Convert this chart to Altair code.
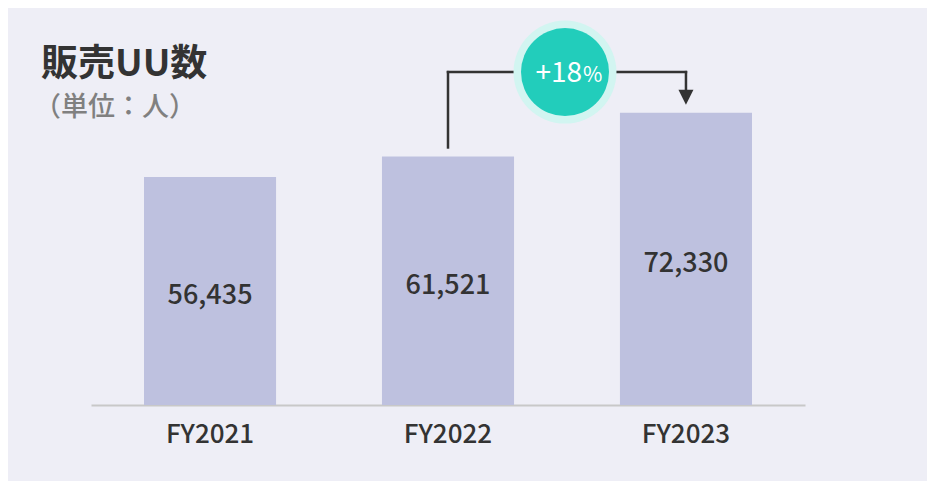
import altair as alt
import pandas as pd

# ---- data ----
years = ["FY2021", "FY2022", "FY2023"]
values = [56435, 61521, 72330]
title_text = "販売UU数"
subtitle_text = "（単位：人）"
growth_text = "+18"
growth_unit = "%"
bracket_level = 82400  # height of the growth bracket, in data units

# ---- style ----
FONT = "Noto Sans CJK JP"
BG = "#eeeef6"
BAR = "#bec1df"
TEXT = "#333333"
TEAL = "#22cdbb"
TEAL_LIGHT = "#d2f5f1"
YMAX = 95300

df = pd.DataFrame({"year": years, "value": values})

x_scale = alt.Scale(domain=years, paddingInner=0.445, paddingOuter=0.2227)
y_scale = alt.Scale(domain=[0, YMAX], nice=False, zero=True)

x_enc = alt.X(
    "year:N",
    scale=x_scale,
    sort=years,
    axis=alt.Axis(
        title=None,
        labelAngle=0,
        ticks=False,
        domainColor="#c8c8c8",
        domainWidth=2,
        labelFont=FONT,
        labelFontSize=26,
        labelFontWeight=500,
        labelColor=TEXT,
        labelPadding=16,
        grid=False,
    ),
)
y_enc = alt.Y("value:Q", scale=y_scale, axis=None)

bars = alt.Chart(df).mark_bar(color=BAR).encode(x=x_enc, y=y_enc)

labels = (
    alt.Chart(df)
    .transform_calculate(half="datum.value / 2")
    .mark_text(font=FONT, fontSize=27, fontWeight=500, color=TEXT, baseline="middle", dy=5)
    .encode(
        x=alt.X("year:N", scale=x_scale, sort=years),
        y=alt.Y("half:Q", scale=y_scale),
        text=alt.Text("value:Q", format=","),
    )
)

# ---- growth bracket ----
first = pd.DataFrame({"year": [years[1]], "value": [values[1]], "level": [bracket_level]})
last = pd.DataFrame({"year": [years[2]], "value": [values[2]], "level": [bracket_level]})
span = pd.DataFrame({"year": [years[1]], "year2": [years[2]], "level": [bracket_level]})

rule_style = dict(color=TEXT, strokeWidth=2.5, strokeCap="square")

left_leg = alt.Chart(first).mark_rule(yOffset=-9, **rule_style).encode(
    x=alt.X("year:N", scale=x_scale, sort=years),
    y=alt.Y("value:Q", scale=y_scale),
    y2="level:Q",
)
top_bar = alt.Chart(span).mark_rule(**rule_style).encode(
    x=alt.X("year:N", scale=x_scale, sort=years),
    x2="year2:N",
    y=alt.Y("level:Q", scale=y_scale),
)
right_leg = alt.Chart(last).mark_rule(yOffset=-23, **rule_style).encode(
    x=alt.X("year:N", scale=x_scale, sort=years),
    y=alt.Y("value:Q", scale=y_scale),
    y2="level:Q",
)
arrow = alt.Chart(last).mark_point(
    shape="M-1,-1L1,-1L0,1Z", size=225, filled=True, color=TEXT, opacity=1, yOffset=-15.5
).encode(
    x=alt.X("year:N", scale=x_scale, sort=years),
    y=alt.Y("value:Q", scale=y_scale),
)

badge_outer = alt.Chart(first).mark_point(
    shape="circle", size=10609, filled=True, color=TEAL_LIGHT, opacity=1, xOffset=117
).encode(
    x=alt.X("year:N", scale=x_scale, sort=years),
    y=alt.Y("level:Q", scale=y_scale),
)
badge_inner = alt.Chart(first).mark_point(
    shape="circle", size=7744, filled=True, color=TEAL, opacity=1, xOffset=117
).encode(
    x=alt.X("year:N", scale=x_scale, sort=years),
    y=alt.Y("level:Q", scale=y_scale),
)
badge_num = alt.Chart(first).transform_calculate(t=f"'{growth_text}'").mark_text(
    font=FONT, fontSize=28, color="white", align="right", baseline="middle", xOffset=134, dy=2
).encode(
    x=alt.X("year:N", scale=x_scale, sort=years),
    y=alt.Y("level:Q", scale=y_scale),
    text="t:N",
)
badge_pct = alt.Chart(first).transform_calculate(t=f"'{growth_unit}'").mark_text(
    font=FONT, fontSize=21, color="white", align="left", baseline="middle", xOffset=135, dy=4
).encode(
    x=alt.X("year:N", scale=x_scale, sort=years),
    y=alt.Y("level:Q", scale=y_scale),
    text="t:N",
)

# ---- title block ----
title_df = pd.DataFrame({"t": [title_text]})
sub_df = pd.DataFrame({"t": [subtitle_text]})
title = alt.Chart(title_df).mark_text(
    font=FONT, fontSize=37, fontWeight="bold", color=TEXT, align="left", baseline="middle"
).encode(x=alt.value(-50), y=alt.value(45), text="t:N")
subtitle = alt.Chart(sub_df).mark_text(
    font=FONT, fontSize=27, fontWeight=500, color="#808080", align="left", baseline="middle"
).encode(x=alt.value(-57), y=alt.value(88), text="t:N")

chart = (
    alt.layer(
        bars, labels, left_leg, top_bar, right_leg, arrow,
        badge_outer, badge_inner, badge_num, badge_pct, title, subtitle,
    )
    .properties(
        width=714,
        height=385,
        background=BG,
        padding={"left": 83, "top": 12, "right": 122, "bottom": 76},
        autosize=alt.AutoSizeParams(type="none"),
    )
    .configure_view(stroke=None)
)

chart.save("out.html", embed_options={"renderer": "svg", "actions": False})
